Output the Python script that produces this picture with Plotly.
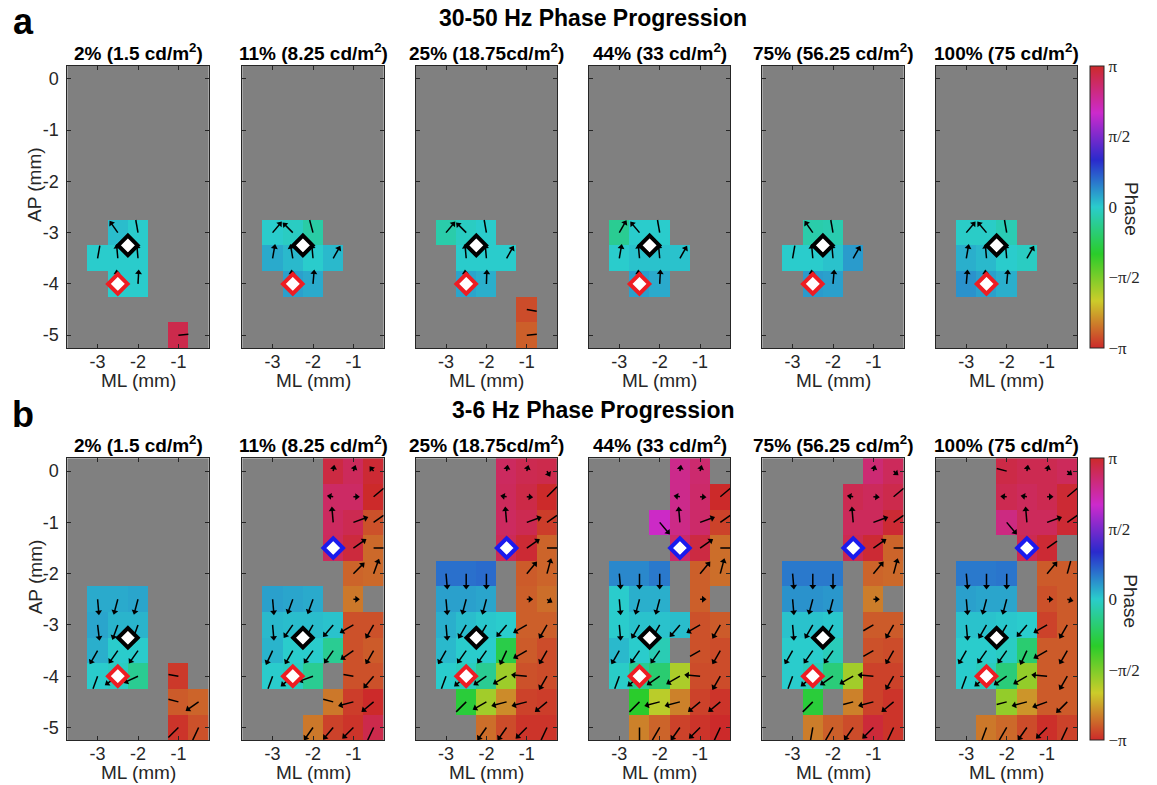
import math
import numpy as np
import plotly.graph_objects as go

N = None

# Electrode grid (cell centres, mm)
ML_MM = [-3.5, -3.0, -2.5, -2.0, -1.5, -1.0, -0.5]
AP_MM = [0.0, -0.5, -1.0, -1.5, -2.0, -2.5, -3.0, -3.5, -4.0, -4.5, -5.0]
ML_TICKS = [-3, -2, -1]
AP_TICKS = [0, -1, -2, -3, -4, -5]

CONDITIONS = ["2% (1.5 cd/m<sup>2</sup>)", "11% (8.25 cd/m<sup>2</sup>)",
              "25% (18.75cd/m<sup>2</sup>)", "44% (33 cd/m<sup>2</sup>)",
              "75% (56.25 cd/m<sup>2</sup>)", "100% (75 cd/m<sup>2</sup>)"]
BANDS = ["30-50 Hz Phase Progression", "3-6 Hz Phase Progression"]
BAND_LETTERS = ["a", "b"]

PHASE_TICKS = [-1, -0.5, 0, 0.5, 1]
PHASE_TICK_TEXT = ["\u2212\u03c0", "\u2212\u03c0/2", "0", "\u03c0/2", "\u03c0"]

# Marked recording sites (black, red, blue)
SITE_ML = [-2.25, -2.5, -1.5]
SITE_AP = [-3.25, -4.0, -1.5]
SITE_EDGE = ["#000000", "#ee1d23", "#1a1aee"]

# Phase in units of pi, keyed by AP row index; columns follow ML_MM
GAMMA_PHASE_2 = {6: [N, N, 0.03, 0.0, N, N, N], 7: [N, 0.0, 0.0, 0.0, N, N, N],
                 8: [N, N, 0.0, 0.0, N, N, N], 10: [N, N, N, N, N, 0.93, N]}
GAMMA_PHASE_11 = {6: [N, 0.0, -0.02, -0.08, N, N, N], 7: [N, 0.07, 0.04, 0.0, 0.04, N, N],
                  8: [N, N, 0.09, 0.07, N, N, N]}
GAMMA_PHASE_25 = {6: [N, -0.07, -0.02, 0.0, N, N, N], 7: [N, N, 0.0, 0.0, 0.0, N, N],
                  8: [N, N, 0.08, 0.06, N, N, N], 9: [N, N, N, N, N, -0.93, N],
                  10: [N, N, N, N, N, -0.89, N]}
GAMMA_PHASE_44 = {6: [N, -0.12, 0.0, 0.0, N, N, N], 7: [N, 0.0, 0.02, 0.02, 0.02, N, N],
                  8: [N, N, 0.09, 0.07, N, N, N]}
GAMMA_PHASE_75 = {6: [N, N, -0.07, -0.06, N, N, N], 7: [N, 0.0, 0.0, 0.02, 0.1, N, N],
                  8: [N, N, 0.1, 0.09, N, N, N]}
GAMMA_PHASE_100 = {6: [N, -0.01, -0.01, -0.05, N, N, N], 7: [N, 0.06, 0.04, 0.0, -0.02, N, N],
                   8: [N, 0.12, 0.09, 0.06, N, N, N]}

# Phase-gradient direction (degrees, counter-clockwise from +ML on screen)
GAMMA_ANGLE_2 = {6: [N, N, 125, 100, N, N, N], 7: [N, 80, 95, 95, N, N, N],
                 8: [N, N, 95, 87, N, N, N], 10: [N, N, N, N, N, 5, N]}
GAMMA_ANGLE_11 = {6: [N, 50, 135, 105, N, N, N], 7: [N, 80, 100, 95, 60, N, N],
                  8: [N, N, 95, 85, N, N, N]}
GAMMA_ANGLE_25 = {6: [N, 50, 135, 100, N, N, N], 7: [N, N, 95, 95, 60, N, N],
                  8: [N, N, 95, 88, N, N, N], 9: [N, N, N, N, N, -10, N],
                  10: [N, N, N, N, N, 5, N]}
GAMMA_ANGLE_44 = {6: [N, 60, 130, 100, N, N, N], 7: [N, 80, 95, 95, 60, N, N],
                  8: [N, N, 95, 87, N, N, N]}
GAMMA_ANGLE_75 = {6: [N, N, 125, 100, N, N, N], 7: [N, 80, 95, 95, 60, N, N],
                  8: [N, N, 95, 85, N, N, N]}
GAMMA_ANGLE_100 = {6: [N, 50, 130, 100, N, N, N], 7: [N, 80, 95, 95, 60, N, N],
                   8: [N, 85, 95, 85, N, N, N]}

THETA_PHASE_2 = {5: [N, 0.07, 0.07, 0.08, N, N, N], 6: [N, 0.08, 0.05, 0.05, N, N, N],
                 7: [N, 0.06, 0.0, 0.0, N, N, N], 8: [N, 0.0, -0.02, -0.12, N, -0.97, N],
                 9: [N, N, N, N, N, -0.9, -0.88], 10: [N, N, N, N, N, -0.98, -0.92]}
THETA_PHASE_11 = {0: [N, N, N, N, 0.95, 0.9, 0.98], 1: [N, N, N, N, 0.88, 0.88, 1.0],
                  2: [N, N, N, N, 0.89, 0.92, -0.92], 3: [N, N, N, N, 0.9, 0.96, -0.87],
                  4: [N, N, N, N, N, -0.88, -0.87], 5: [N, 0.09, 0.08, 0.07, N, -0.84, N],
                  6: [N, 0.04, 0.03, 0.03, 0.02, -0.92, -0.92],
                  7: [N, 0.05, 0.0, 0.0, -0.12, -0.92, -0.9],
                  8: [N, 0.0, -0.02, -0.12, N, -0.92, -0.92],
                  9: [N, N, N, N, -0.84, -0.96, -1.0], 10: [N, N, N, -0.84, -0.95, -0.98, 0.93]}
THETA_PHASE_25 = {0: [N, N, N, N, 0.89, 0.92, 0.93], 1: [N, N, N, N, 0.9, 0.94, 1.0],
                  2: [N, N, N, N, 0.89, 0.92, -0.96], 3: [N, N, N, N, 0.91, 0.98, -0.88],
                  4: [N, 0.19, 0.19, 0.2, N, -0.9, -0.88], 5: [N, 0.09, 0.09, 0.08, N, -0.89, -0.86],
                  6: [N, 0.06, 0.03, 0.01, 0.0, -0.89, -0.89],
                  7: [N, 0.04, 0.0, 0.0, -0.27, -0.9, -0.93],
                  8: [N, 0.0, -0.03, -0.12, -0.57, -0.92, -0.93],
                  9: [N, N, -0.3, -0.58, -0.8, -0.95, -0.96], 10: [N, N, N, -0.86, -0.93, -0.98, -0.98]}
THETA_PHASE_44 = {0: [N, N, N, N, 0.8, 0.86, N], 1: [N, N, N, N, 0.8, 0.87, 1.0],
                  2: [N, N, N, 0.68, 0.81, 0.87, -0.95], 3: [N, N, N, N, 0.87, 0.95, -0.86],
                  4: [N, 0.14, 0.14, 0.17, N, -0.89, -0.86], 5: [N, 0.0, 0.06, 0.06, N, -0.89, N],
                  6: [N, 0.0, 0.02, 0.02, 0.03, -0.92, -0.9],
                  7: [N, 0.04, 0.0, -0.05, N, -0.92, -0.93],
                  8: [N, -0.01, -0.12, -0.19, -0.6, -0.93, -0.93],
                  9: [N, N, -0.33, -0.63, -0.82, -0.95, -0.98], 10: [N, N, -0.82, -0.88, -0.95, -0.98, -1.0]}
THETA_PHASE_75 = {0: [N, N, N, N, N, 0.85, 0.9], 1: [N, N, N, N, 0.92, 0.9, 0.93],
                  2: [N, N, N, N, 0.9, 0.9, 0.98], 3: [N, N, N, N, 0.92, 0.98, -0.88],
                  4: [N, 0.17, 0.17, 0.17, N, -0.88, -0.87], 5: [N, 0.12, 0.12, 0.11, N, -0.83, N],
                  6: [N, 0.02, 0.02, 0.01, N, -0.9, -0.9],
                  7: [N, 0.0, 0.0, -0.04, N, -0.92, -0.93],
                  8: [N, 0.0, -0.04, -0.17, -0.58, -0.95, -0.95],
                  9: [N, N, -0.3, N, -0.82, -0.95, -0.98], 10: [N, N, -0.83, -0.89, -0.93, 0.97, -0.98]}
THETA_PHASE_100 = {0: [N, N, N, 0.94, 0.92, 0.92, 0.9], 1: [N, N, N, 0.92, 0.9, 0.92, 0.98],
                   2: [N, N, N, 0.82, 0.9, 0.9, 0.98], 3: [N, N, N, N, 0.92, 0.98, N],
                   4: [N, 0.17, 0.17, 0.18, N, -0.9, -0.9], 5: [N, 0.09, 0.08, 0.08, N, -0.92, -0.9],
                   6: [N, 0.02, 0.02, 0.01, 0.0, -0.95, -0.9],
                   7: [N, 0.0, 0.0, -0.02, -0.19, -0.9, -0.9],
                   8: [N, 0.0, -0.03, -0.17, -0.55, -0.9, -0.9],
                   9: [N, N, N, -0.55, -0.78, -0.9, -0.9], 10: [N, N, -0.84, -0.87, -0.93, -0.99, -0.95]}

THETA_ANGLE_2 = {5: [N, -85, -105, -105, N, N, N], 6: [N, -83, -110, -110, N, N, N],
                 7: [N, -120, -125, -125, N, N, N], 8: [N, -110, -145, -155, N, 170, N],
                 9: [N, N, N, N, N, 165, -145], 10: [N, N, N, N, N, -135, -115]}
THETA_ANGLE_11 = {0: [N, N, N, N, 80, 70, 130], 1: [N, N, N, N, 170, 0, 40],
                  2: [N, N, N, N, 95, 20, 35], 3: [N, N, N, N, N, 35, 0],
                  4: [N, N, N, N, N, 45, 70], 5: [N, -85, -110, -110, N, 0, N],
                  6: [N, -85, -125, -120, -130, -150, -120],
                  7: [N, -115, -120, -125, -125, -145, -120],
                  8: [N, -110, -140, -160, N, 170, -130],
                  9: [N, N, N, N, 165, -165, -140], 10: [N, N, N, -125, -130, -135, -115]}
THETA_ANGLE_25 = {0: [N, N, N, N, 80, 75, -60], 1: [N, N, N, N, 170, -5, 45],
                  2: [N, N, N, N, 95, 20, 35], 3: [N, N, N, N, N, 35, 0],
                  4: [N, -85, -90, -90, N, 50, 75], 5: [N, -85, -105, -105, N, 0, -30],
                  6: [N, -85, -120, -120, -130, -150, -120],
                  7: [N, -120, -125, -125, -115, -150, -120],
                  8: [N, -110, -140, -145, -150, 175, -120],
                  9: [N, N, -135, -150, -165, -165, -140], 10: [N, N, N, -125, -125, -135, -115]}
THETA_ANGLE_44 = {0: [N, N, N, N, 80, 75, N], 1: [N, N, N, N, 170, -5, 40],
                  2: [N, N, N, -50, 95, 20, 35], 3: [N, N, N, N, N, 35, 0],
                  4: [N, -85, -90, -90, N, 50, 75], 5: [N, -85, -105, -105, N, 0, N],
                  6: [N, -85, -120, -120, -130, -150, -120],
                  7: [N, -120, -125, -125, N, -150, -120],
                  8: [N, -110, -140, -145, -150, 175, -120],
                  9: [N, N, -135, -165, -165, -140, -140], 10: [N, N, -90, -120, -125, -135, -115]}
THETA_ANGLE_75 = {0: [N, N, N, N, N, 75, -40], 1: [N, N, N, N, 170, -5, 40],
                  2: [N, N, N, N, 95, 20, 35], 3: [N, N, N, N, N, 35, 0],
                  4: [N, -85, -90, -90, N, 50, 75], 5: [N, -85, -105, -105, N, 0, N],
                  6: [N, -85, -120, -120, N, -150, -120],
                  7: [N, -120, -125, -125, N, -150, -120],
                  8: [N, -110, -140, -145, -150, 175, -120],
                  9: [N, N, -135, N, -165, -165, -140], 10: [N, N, -100, -120, -125, -135, -115]}
THETA_ANGLE_100 = {0: [N, N, N, 165, 80, 75, -40], 1: [N, N, N, 175, 170, 0, 40],
                   2: [N, N, N, -50, 95, 20, 35], 3: [N, N, N, N, N, 35, N],
                   4: [N, -85, -90, -90, N, 50, 75], 5: [N, -85, -105, -105, N, 0, -15],
                   6: [N, -85, -120, -120, -130, -150, -120],
                   7: [N, -120, -125, -125, -115, -150, -120],
                   8: [N, -110, -140, -145, -150, 175, -120],
                   9: [N, N, N, -165, -165, -160, -135], 10: [N, N, -110, -120, -125, -135, -115]}

# Cells (row, col) with weak gradients
THETA_SHORT_2 = []
THETA_SHORT_11 = [(0, 4), (0, 5), (0, 6), (1, 4), (1, 5), (5, 5)]
THETA_SHORT_25 = [(0, 4), (0, 5), (0, 6), (1, 4), (1, 5), (5, 5), (5, 6)]
THETA_SHORT_44 = [(0, 4), (0, 5), (1, 4), (1, 5), (5, 5)]
THETA_SHORT_75 = [(0, 5), (0, 6), (1, 4), (1, 5), (5, 5)]
THETA_SHORT_100 = [(0, 4), (0, 5), (0, 6), (1, 3), (1, 4), (1, 5), (5, 5), (5, 6)]

PANELS = [
    (GAMMA_PHASE_2, GAMMA_ANGLE_2, []), (GAMMA_PHASE_11, GAMMA_ANGLE_11, []),
    (GAMMA_PHASE_25, GAMMA_ANGLE_25, []), (GAMMA_PHASE_44, GAMMA_ANGLE_44, []),
    (GAMMA_PHASE_75, GAMMA_ANGLE_75, []), (GAMMA_PHASE_100, GAMMA_ANGLE_100, []),
    (THETA_PHASE_2, THETA_ANGLE_2, THETA_SHORT_2), (THETA_PHASE_11, THETA_ANGLE_11, THETA_SHORT_11),
    (THETA_PHASE_25, THETA_ANGLE_25, THETA_SHORT_25), (THETA_PHASE_44, THETA_ANGLE_44, THETA_SHORT_44),
    (THETA_PHASE_75, THETA_ANGLE_75, THETA_SHORT_75), (THETA_PHASE_100, THETA_ANGLE_100, THETA_SHORT_100),
]

# Cyclic hue map for phase
PHASE_SCALE = [[0.0, "rgb(204,42,42)"], [1 / 6, "rgb(204,204,42)"], [2 / 6, "rgb(42,204,42)"],
               [3 / 6, "rgb(42,204,204)"], [4 / 6, "rgb(42,42,204)"], [5 / 6, "rgb(204,42,204)"],
               [1.0, "rgb(204,42,42)"]]

# ---- geometry (pixels) ----
W, H = 1157, 785
PANEL_LEFT = [67.3, 242.3, 415.7, 589.0, 762.3, 936.0]
PANEL_W = 141.4
ROW_TOP = [66.0, 458.3]
PANEL_H = 282.0
PX_X = PANEL_W / 3.5
PX_Y = PANEL_H / 5.5
AX = "#262626"
FONT = "Liberation Sans"


def expand(rows):
    g = [[None] * len(ML_MM) for _ in AP_MM]
    for r, vals in rows.items():
        g[r] = list(vals)
    return g


def is_valid(grid, x, y):
    c = int(math.floor((x + 3.75) / 0.5))
    r = int(math.floor((0.25 - y) / 0.5))
    if not (0 <= c < len(ML_MM) and 0 <= r < len(AP_MM)):
        return False
    return grid[r][c] is not None


def quiver(grid, angles, short, base_len):
    lx, ly, hx, hy, ha = [], [], [], [], []
    for r in range(len(AP_MM)):
        for c in range(len(ML_MM)):
            a = angles[r][c]
            if a is None or grid[r][c] is None:
                continue
            length = 6.0 if (r, c) in short else base_len
            th = math.radians(a)
            ux, uy = math.cos(th) / PX_X, math.sin(th) / PX_Y
            x0, y0 = ML_MM[c], AP_MM[r]
            t_end = length
            for t in np.linspace(0, length, 61)[1:]:
                if not is_valid(grid, x0 + t * ux, y0 + t * uy):
                    t_end = t - length / 60
                    break
            full = t_end >= length - 1e-9
            tl = t_end - 2.0 if full else t_end
            lx += [x0, x0 + tl * ux, None]
            ly += [y0, y0 + tl * uy, None]
            if full:
                hx.append(x0 + (length - 2.6) * ux)
                hy.append(y0 + (length - 2.6) * uy)
                ha.append(90 - a)
    return lx, ly, hx, hy, ha


fig = go.Figure()
layout = {}
for k, (ph_rows, ang_rows, short) in enumerate(PANELS):
    row, col = divmod(k, 6)
    sfx = "" if k == 0 else str(k + 1)
    grid = expand(ph_rows)
    angles = expand(ang_rows)
    x0 = PANEL_LEFT[col]
    y0 = ROW_TOP[row]

    hm = dict(x=ML_MM, y=AP_MM, z=grid, zmin=-1, zmax=1, colorscale=PHASE_SCALE,
              hoverinfo="skip", showscale=False, xaxis="x" + sfx, yaxis="y" + sfx)
    if col == 5:
        hm["showscale"] = True
        hm["colorbar"] = dict(
            x=1090 / W, xanchor="left", xpad=0, y=1 - (y0 + PANEL_H / 2) / H, yanchor="middle",
            ypad=0, len=PANEL_H / H, lenmode="fraction", thickness=14, thicknessmode="pixels",
            outlinewidth=1, outlinecolor=AX, tickvals=PHASE_TICKS, ticktext=PHASE_TICK_TEXT,
            ticks="", tickfont=dict(size=17, family="Liberation Serif", color=AX))
    fig.add_trace(go.Heatmap(**hm))

    lx, ly, hx, hy, ha = quiver(grid, angles, short, 14.0 if row == 0 else 15.5)
    fig.add_trace(go.Scatter(x=lx, y=ly, mode="lines", line=dict(color="black", width=1.5),
                             hoverinfo="skip", showlegend=False, xaxis="x" + sfx, yaxis="y" + sfx))
    fig.add_trace(go.Scatter(x=hx, y=hy, mode="markers",
                             marker=dict(symbol="triangle-up", size=6, angle=ha, color="black",
                                         line=dict(width=0)),
                             hoverinfo="skip", showlegend=False, xaxis="x" + sfx, yaxis="y" + sfx))

    n_sites = 2 if (row == 0 or col == 0) else 3
    fig.add_trace(go.Scatter(x=SITE_ML[:n_sites], y=SITE_AP[:n_sites], mode="markers",
                             marker=dict(symbol="diamond", size=15, color="white",
                                         line=dict(width=4, color=SITE_EDGE[:n_sites])),
                             hoverinfo="skip", showlegend=False, xaxis="x" + sfx, yaxis="y" + sfx))

    common = dict(ticks="inside", ticklen=4, tickcolor=AX, tickwidth=1, showline=True,
                  linecolor=AX, linewidth=1, mirror="ticks", showgrid=False, zeroline=False,
                  fixedrange=True, tickfont=dict(size=18, color=AX, family=FONT))
    layout["xaxis" + sfx] = dict(domain=[x0 / W, (x0 + PANEL_W) / W], anchor="y" + sfx,
                                 range=[-3.75, -0.25], tickvals=ML_TICKS,
                                 ticktext=[str(v) for v in ML_TICKS],
                                 ticklabelstandoff=-3, **common)
    layout["yaxis" + sfx] = dict(domain=[1 - (y0 + PANEL_H) / H, 1 - y0 / H], anchor="x" + sfx,
                                 range=[-5.25, 0.25], tickvals=AP_TICKS,
                                 ticktext=[str(v) for v in AP_TICKS], showticklabels=(col == 0),
                                 ticklabelstandoff=4, **common)

ann = []
for row in range(2):
    y0 = ROW_TOP[row]
    for col in range(6):
        xc = (PANEL_LEFT[col] + PANEL_W / 2) / W
        ann.append(dict(x=xc, y=1 - (y0 - 14) / H, text="<b>" + CONDITIONS[col] + "</b>",
                        font=dict(size=19, color="black", family=FONT)))
        ann.append(dict(x=xc, y=1 - (y0 + PANEL_H + 32) / H, text="ML (mm)",
                        font=dict(size=19, color=AX, family=FONT)))
    ann.append(dict(x=35 / W, y=1 - (y0 + 119) / H, text="AP (mm)", textangle=-90,
                    font=dict(size=19, color=AX, family=FONT)))
    ann.append(dict(x=1131 / W, y=1 - (y0 + 143) / H, text="Phase", textangle=90,
                    font=dict(size=19, color=AX, family=FONT)))
    ann.append(dict(x=593 / W, y=1 - (y0 - 48) / H, text="<b>" + BANDS[row] + "</b>",
                    font=dict(size=23, color="black", family=FONT)))
    ann.append(dict(x=23 / W, y=1 - (y0 - 44) / H, text="<b>" + BAND_LETTERS[row] + "</b>",
                    font=dict(size=36, color="black", family=FONT)))
for a in ann:
    a.update(xref="paper", yref="paper", showarrow=False, xanchor="center", yanchor="middle")

fig.update_layout(width=W, height=H, margin=dict(l=0, r=0, t=0, b=0), autosize=False,
                  paper_bgcolor="white", plot_bgcolor="#808080", showlegend=False,
                  font=dict(family=FONT, color=AX), annotations=ann, **layout)

fig.write_html("out.html")
